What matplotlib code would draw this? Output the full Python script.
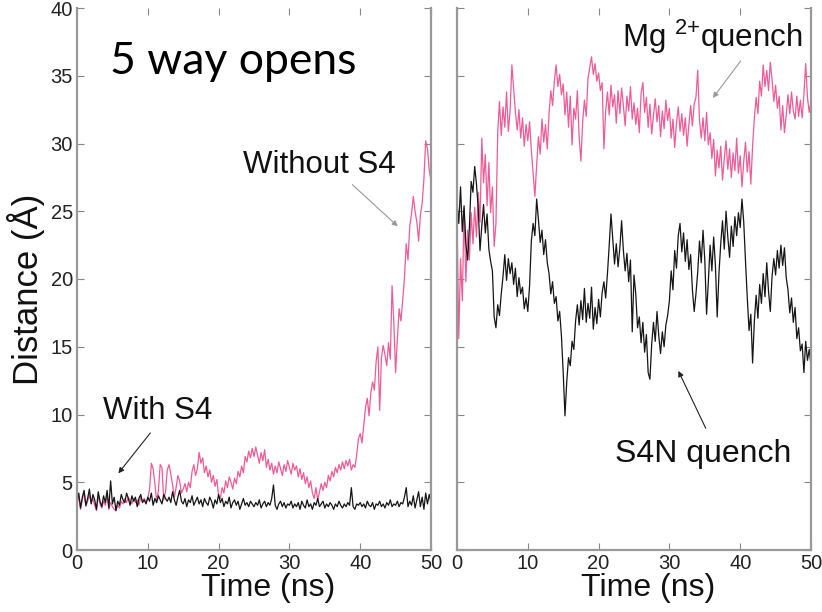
import numpy as np
import matplotlib
matplotlib.use("Agg")
import matplotlib.pyplot as plt

# --- data (0.25 ns steps) ---
with_s4 = [
    3.6, 4.2, 3.1, 3.9, 4.4, 3.3, 3.8, 4.5, 3.4, 4.1, 3.7, 3.0, 4.3, 3.6, 3.2, 4.0, 3.5, 4.4, 3.1, 5.1,
    3.4, 3.9, 2.9, 3.6, 3.3, 4.1, 3.7, 3.5, 4.2, 3.8, 3.3, 4.0, 3.6, 3.9, 3.2, 3.8, 4.1, 3.5, 3.7, 3.4,
    3.9, 3.6, 4.2, 3.3, 3.8, 3.5, 4.0, 3.7, 3.4, 4.1, 3.8, 3.6, 3.9, 3.5, 4.3, 3.7, 3.3, 3.9, 4.4, 3.6,
    3.4, 3.8, 3.2, 3.7, 3.5, 4.0, 3.3, 3.6, 3.9, 3.4, 3.7, 3.2, 3.8, 3.5, 3.3, 3.9, 3.6, 3.1, 3.7, 3.4,
    4.1, 3.5, 3.8, 3.2, 3.6, 3.4, 3.9, 3.1, 3.5, 3.7, 3.3, 3.6, 3.0, 3.4, 3.8, 3.3, 3.5, 3.2, 3.6, 3.4,
    3.2, 3.5, 3.3, 3.7, 3.1, 3.4, 3.6, 3.2, 3.5, 3.3, 3.8, 4.8, 3.3, 3.0, 3.4, 3.6, 3.2, 3.5, 3.1, 3.4,
    3.3, 3.6, 3.1, 3.4, 3.2, 3.5, 3.0, 3.6, 3.3, 3.1, 3.7, 3.2, 3.4, 3.0, 3.5, 3.3, 3.8, 3.2, 3.4, 3.6,
    3.1, 3.4, 3.2, 3.5, 3.3, 3.0, 3.4, 3.2, 3.6, 3.3, 3.1, 3.4, 3.2, 3.5, 3.3, 4.6, 3.2, 3.0, 3.4, 3.3,
    3.5, 3.2, 3.4, 3.1, 3.6, 3.3, 3.2, 3.5, 3.0, 3.4, 3.3, 3.6, 3.2, 3.4, 3.1, 3.5, 3.3, 3.7, 3.2, 3.4,
    3.3, 3.6, 3.2, 3.5, 3.4, 3.9, 4.6, 3.2, 3.6, 3.3, 4.0, 3.1, 3.7, 4.3, 3.2, 3.9, 3.0, 4.2, 3.4, 4.1,
    3.5,
]

without_s4 = [
    3.4, 3.9, 3.0, 3.7, 4.3, 3.2, 3.6, 4.1, 3.5, 3.8, 3.3, 2.9, 4.0, 3.4, 3.1, 3.6, 3.3, 4.1, 3.0, 3.5,
    3.2, 3.0, 2.9, 3.3, 3.1, 3.6, 3.4, 3.8, 3.5, 3.9, 3.6, 3.4, 3.8, 3.5, 3.7, 3.3, 3.9, 3.6, 3.8, 3.5,
    3.8, 4.5, 6.4, 6.0, 4.9, 3.6, 4.4, 6.3, 6.1, 3.7, 4.3, 5.9, 6.3, 5.6, 4.8, 3.9, 4.6, 5.5, 5.1, 4.2,
    4.5, 4.9, 4.3, 5.0, 4.6, 5.8, 6.3, 5.5, 6.0, 7.2, 6.4, 6.8, 5.7, 6.2, 5.4, 5.9, 5.0, 5.5, 4.7, 5.2,
    4.0, 3.8, 4.6, 4.2, 5.1, 4.6, 5.4, 5.0, 4.5, 5.3, 4.9, 5.8, 5.4, 6.2, 5.7, 6.9, 6.5, 7.3, 6.8, 7.5,
    6.9, 7.6, 7.0, 6.4, 7.2, 6.6, 7.4, 6.1, 6.7, 5.9, 6.4, 5.6, 6.2, 5.7, 6.5, 6.0, 5.5, 6.3, 5.8, 6.6,
    6.1, 5.6, 6.4, 5.9, 6.2, 5.4, 6.0, 5.2, 5.7, 4.9, 5.4, 4.6, 5.1, 4.2, 3.8, 4.6, 3.7, 4.3, 4.9, 4.4,
    5.0, 4.6, 5.5, 5.1, 5.8, 5.4, 6.1, 5.7, 6.3, 5.9, 6.5, 6.0, 6.6, 6.2, 6.7, 5.9, 6.3, 6.1, 7.0, 8.2,
    8.6, 7.9, 9.2, 10.5, 11.2, 9.9, 11.6, 12.4, 11.8, 13.9, 15.0, 10.3, 14.2, 15.1, 14.4, 13.6, 15.3, 14.1, 19.5, 16.8,
    13.1, 15.6, 17.8, 16.9, 18.4, 20.1, 22.6, 21.4, 23.9, 24.8, 26.1, 25.0, 24.2, 22.8, 24.7, 25.6, 27.4, 30.2, 29.6, 28.1,
    27.2,
]

mg_quench = [
    24.8, 15.6, 21.5, 18.4, 25.2, 19.8, 23.6, 21.4, 24.9, 22.6, 25.3, 23.1, 26.4, 24.2, 30.4, 27.1, 29.2, 25.4, 28.6, 24.9,
    26.8, 22.4, 24.1, 30.8, 33.1, 30.6, 32.7, 31.2, 33.8, 30.9, 32.4, 35.8, 34.1, 32.3, 31.0, 32.5, 30.4, 31.9, 29.8, 31.4,
    30.2, 31.6, 29.5, 27.8, 26.1, 28.4, 30.5, 29.2, 31.8, 30.1, 31.4, 29.6, 32.2, 33.9, 32.8, 34.6, 35.8, 34.2, 35.1, 33.6,
    34.4, 32.1, 33.8, 31.2, 33.5, 29.9, 32.6, 31.8, 33.9, 30.5, 28.7, 31.6, 33.2, 32.0, 34.8, 35.6, 36.4, 35.1, 35.9, 34.6,
    35.2, 33.9, 34.5, 29.6, 32.4, 33.8, 32.1, 34.3, 32.7, 33.6, 31.5, 33.9, 32.2, 34.1, 32.8, 31.3, 33.5, 32.4, 34.2, 31.8,
    33.0, 31.4, 32.6, 30.8, 33.7, 34.5, 32.3, 33.4, 31.2, 32.9, 30.7, 32.1, 33.3, 31.6, 32.8, 30.5, 32.4, 31.1, 33.2, 31.7,
    32.6, 30.4, 31.8, 29.7, 31.5, 32.7, 30.9, 32.2, 30.6, 31.9, 29.8, 31.4, 32.8, 31.3, 32.9, 33.4, 35.4, 31.7, 30.4, 31.9,
    30.2, 32.3, 29.9, 30.8, 28.9, 30.3, 27.6, 29.5, 28.2, 29.8, 27.3, 28.9, 30.2, 28.1, 29.6, 27.5, 29.3, 28.0, 30.4, 27.8,
    29.1, 26.8, 28.7, 30.1, 27.9, 29.4, 27.0, 29.8, 31.9, 33.4, 32.2, 34.6, 33.5, 35.8, 34.2, 35.4, 33.9, 36.0, 34.7, 33.1,
    34.3, 32.6, 33.5, 31.0, 32.8, 30.8, 32.1, 33.6, 32.2, 33.8, 32.4, 31.8, 33.5, 32.0, 33.2, 31.9, 33.6, 35.9, 33.4, 32.3,
    33.1,
]

s4n_quench = [
    25.6, 24.1, 26.8, 23.5, 25.4, 22.6, 21.4, 23.8, 27.2, 26.4, 28.3, 27.0, 25.2, 22.1, 23.9, 25.5, 23.4, 24.8, 22.2, 21.3,
    20.6, 17.2, 16.4, 18.1, 17.3, 18.9, 20.2, 21.8, 19.9, 21.5, 20.4, 21.2, 19.6, 20.8, 18.7, 20.1, 18.9, 19.4, 17.8, 18.6,
    17.6, 19.5, 22.8, 24.1, 23.2, 25.9, 24.4, 22.7, 23.6, 21.8, 22.9, 21.2, 20.4, 18.9, 19.8, 18.2, 18.7, 16.9, 17.6, 15.8,
    13.1, 9.9, 12.4, 14.2, 13.6, 15.4, 14.8, 16.9, 18.1, 16.6, 18.4, 17.0, 19.3, 16.8, 18.2, 17.1, 19.4, 16.3, 17.9, 16.7,
    18.5, 17.2, 19.0, 19.8, 18.6, 20.4, 22.5, 24.8, 22.9, 21.1, 22.6, 20.9, 22.3, 24.3, 22.1, 20.6, 21.9, 19.8, 21.4, 16.1,
    20.3, 18.9, 16.4, 17.2, 15.3, 16.8, 14.6, 15.9, 13.1, 12.6, 15.2, 16.8, 15.4, 17.6, 15.8, 14.5, 16.1, 15.0, 16.6, 17.3,
    18.4, 20.6, 19.2, 22.1, 20.8, 23.2, 24.1, 22.0, 23.4, 21.3, 22.9, 20.7, 21.8, 19.2, 17.6, 18.9, 20.5, 22.8, 21.2, 23.6,
    21.4, 17.4, 19.8, 22.5, 20.6, 23.1, 21.0, 17.2, 20.4, 22.6, 24.3, 22.2, 25.0, 23.1, 21.6, 23.9, 22.4, 24.6, 23.2, 24.9,
    23.8, 25.9, 24.2, 21.3, 18.6, 16.2, 17.4, 13.8, 16.9, 18.8, 17.1, 19.6, 18.2, 20.4, 18.7, 21.2, 19.1, 17.6, 20.2, 21.5,
    20.3, 22.1, 20.8, 22.5, 21.0, 22.3, 20.1, 19.2, 17.5, 18.6, 16.8, 17.9, 15.6, 16.4, 14.7, 15.2, 13.1, 15.4, 14.0, 14.8,
    13.6,
]

pink = '#EE5B97'
black = '#151515'

plt.rcParams['font.family'] = ['Liberation Sans', 'DejaVu Sans']
plt.rcParams['mathtext.fontset'] = 'custom'
plt.rcParams['mathtext.rm'] = 'Liberation Sans'
plt.rcParams['mathtext.default'] = 'regular'

fig = plt.figure(figsize=(8.22, 6.12), dpi=100)
W, H = 822, 612
ax1 = fig.add_axes([77 / W, (H - 550) / H, 354 / W, 542 / H])
ax2 = fig.add_axes([457 / W, (H - 550) / H, 354 / W, 542 / H])

t1 = np.linspace(0, 50, len(with_s4))
t2 = np.linspace(0, 50, len(mg_quench))

ax1.plot(t1, without_s4, color=pink, lw=0.9)
ax1.plot(t1, with_s4, color=black, lw=0.9)
ax2.plot(t2, mg_quench, color=pink, lw=0.9)
ax2.plot(t2, s4n_quench, color=black, lw=0.9)

for ax in (ax1, ax2):
    ax.set_xlim(0, 50)
    ax.set_ylim(0, 40)
    ax.set_xticks([0, 10, 20, 30, 40, 50])
    ax.set_yticks([0, 5, 10, 15, 20, 25, 30, 35, 40])
    ax.tick_params(direction='in', top=True, right=True, length=5, width=0.8,
                   color='#888888', labelsize=14.5, labelcolor='#222222', pad=3)
    for side in ('left', 'right', 'bottom'):
        ax.spines[side].set_color('#999999')
        ax.spines[side].set_linewidth(1.6)
    ax.spines['top'].set_visible(False)
    ax.set_xlabel('Time (ns)', fontsize=23, color='#111111')
    ax.xaxis.set_label_coords(0.54, -0.043)

ax2.tick_params(labelleft=False)
ax1.set_ylabel('Distance (Å)', fontsize=25, color='#111111')
ax1.yaxis.set_label_coords(-0.09, 0.48)

# title-like label
ax1.text(4.66, 35.1, '5 way opens', fontsize=32, family=['Lato', 'DejaVu Sans'],
         color='black', ha='left', va='baseline')

# annotations
ax1.text(23.4, 27.8, 'Without S4', fontsize=22.5, color='#111111', ha='left', va='baseline')
ax1.annotate('', xy=(45.6, 23.75), xytext=(38.6, 27.1),
             arrowprops=dict(arrowstyle='-|>', color='#999999', lw=0.8, mutation_scale=8))
ax1.text(3.67, 9.7, 'With S4', fontsize=22.5, color='#111111', ha='left', va='baseline')
ax1.annotate('', xy=(5.6, 5.5), xytext=(10.6, 8.8),
             arrowprops=dict(arrowstyle='-|>', color='#222222', lw=0.8, mutation_scale=8))

ax2.text(23.3, 37.1, 'Mg $^{2{+}}$quench', fontsize=22.5, color='#111111', ha='left', va='baseline')
ax2.annotate('', xy=(35.9, 33.2), xytext=(40.3, 36.25),
             arrowprops=dict(arrowstyle='-|>', color='#999999', lw=0.8, mutation_scale=8))
ax2.text(22.3, 6.5, 'S4N quench', fontsize=23, color='#111111', ha='left', va='baseline')
ax2.annotate('', xy=(31.1, 13.4), xytext=(35.3, 8.8),
             arrowprops=dict(arrowstyle='-|>', color='#222222', lw=0.8, mutation_scale=8))

fig.savefig('out.png', dpi=100)
